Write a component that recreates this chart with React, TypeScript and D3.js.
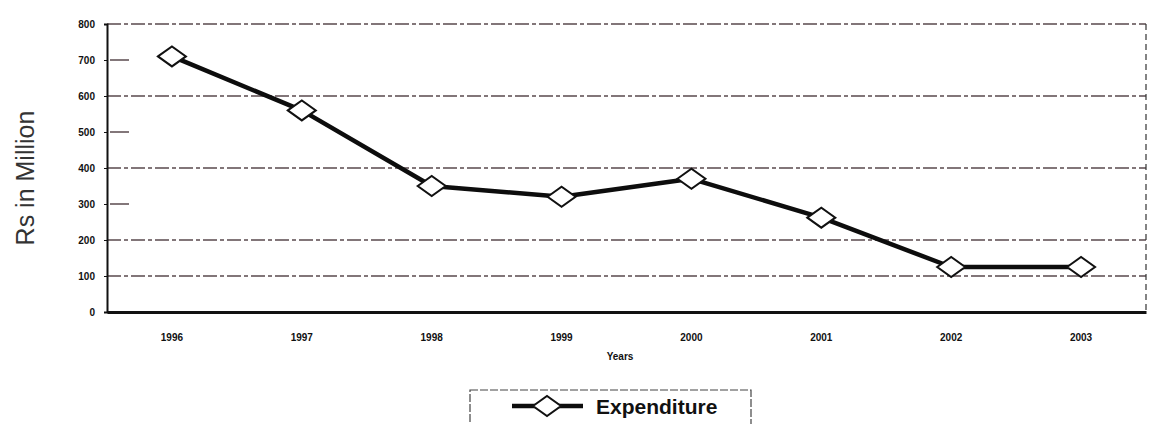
import { useEffect, useRef } from 'react';
import * as d3 from 'd3';

const years = ['1996', '1997', '1998', '1999', '2000', '2001', '2002', '2003'];
const expenditure = [710, 560, 350, 320, 370, 262, 125, 125];
const yTicks = [0, 100, 200, 300, 400, 500, 600, 700, 800];
const gridValues = [100, 200, 400, 600, 800];
const stubValues = [300, 500, 700];

const App = () => {
    const svgRef = useRef<SVGSVGElement>(null);

    useEffect(() => {
        const svg = d3.select(svgRef.current);
        const width = 1159;
        const height = 424;
        const margin = { top: 24, right: 13, bottom: 112, left: 107 };

        svg.selectAll('*').remove();

        const x = d3.scaleBand()
            .domain(years)
            .range([margin.left, width - margin.right])
            .padding(0);

        const y = d3.scaleLinear()
            .domain([0, 800])
            .range([height - margin.bottom, margin.top]);

        const cx = (d: string) => (x(d) ?? 0) + x.bandwidth() / 2;

        // grid
        svg.append('g')
            .selectAll('line')
            .data(gridValues)
            .join('line')
            .attr('x1', margin.left)
            .attr('x2', width - margin.right)
            .attr('y1', d => y(d))
            .attr('y2', d => y(d))
            .attr('stroke', '#5a4a4e')
            .attr('stroke-width', 1.5)
            .attr('stroke-dasharray', '14,3,4,3');

        svg.append('g')
            .selectAll('line')
            .data(stubValues)
            .join('line')
            .attr('x1', margin.left + 3)
            .attr('x2', margin.left + 22)
            .attr('y1', d => y(d))
            .attr('y2', d => y(d))
            .attr('stroke', '#5a4a4e')
            .attr('stroke-width', 1.5);

        // right border
        svg.append('line')
            .attr('x1', width - margin.right)
            .attr('x2', width - margin.right)
            .attr('y1', y(800))
            .attr('y2', y(0))
            .attr('stroke', '#333')
            .attr('stroke-width', 1.2)
            .attr('stroke-dasharray', '6,4');

        // axes
        const yAxis = svg.append('g')
            .attr('transform', `translate(${margin.left},0)`)
            .call(d3.axisLeft(y).tickValues(yTicks).tickSize(3).tickFormat(d3.format('d')));
        yAxis.select('.domain').attr('stroke', '#111').attr('stroke-width', 2);
        yAxis.selectAll('.tick line').attr('stroke', '#111');
        yAxis.selectAll('.tick text')
            .attr('x', -12)
            .style('font-family', 'Arial, "Liberation Sans", sans-serif')
            .style('font-size', '10px')
            .style('font-weight', 'bold')
            .attr('fill', '#111');

        const xAxis = svg.append('g')
            .attr('transform', `translate(0,${y(0)})`)
            .call(d3.axisBottom(x).tickSize(0).tickSizeOuter(0));
        xAxis.select('.domain').attr('stroke', '#111').attr('stroke-width', 3);
        xAxis.selectAll('.tick text')
            .attr('dy', '0')
            .attr('y', 29)
            .style('font-family', 'Arial, "Liberation Sans", sans-serif')
            .style('font-size', '10px')
            .style('font-weight', 'bold')
            .attr('fill', '#111');

        // axis titles
        svg.append('text')
            .attr('x', 620)
            .attr('y', 360)
            .attr('text-anchor', 'middle')
            .style('font-family', 'Arial, "Liberation Sans", sans-serif')
            .style('font-size', '10px')
            .style('font-weight', 'bold')
            .attr('fill', '#111')
            .text('Years');

        svg.append('text')
            .attr('transform', `translate(34,178) rotate(-90)`)
            .attr('text-anchor', 'middle')
            .style('font-family', 'Arial, "Liberation Sans", sans-serif')
            .style('font-size', '25px')
            .attr('fill', '#333')
            .text('Rs in Million');

        // line
        const line = d3.line<number>()
            .x((_, i) => cx(years[i]))
            .y(d => y(d));

        svg.append('path')
            .datum(expenditure)
            .attr('d', line)
            .attr('fill', 'none')
            .attr('stroke', '#0d0d0d')
            .attr('stroke-width', 4.5)
            .attr('stroke-linejoin', 'round');

        const diamond = (px: number, py: number) =>
            `M${px - 14},${py} L${px},${py - 10} L${px + 14},${py} L${px},${py + 10} Z`;

        svg.append('g')
            .selectAll('path')
            .data(expenditure)
            .join('path')
            .attr('d', (d, i) => diamond(cx(years[i]), y(d)))
            .attr('fill', '#fff')
            .attr('stroke', '#111')
            .attr('stroke-width', 2);

        // legend
        const lg = svg.append('g');
        lg.append('rect')
            .attr('x', 470)
            .attr('y', 390)
            .attr('width', 281)
            .attr('height', 40)
            .attr('fill', '#fff')
            .attr('stroke', '#444')
            .attr('stroke-width', 1.2)
            .attr('stroke-dasharray', '8,2');
        lg.append('line')
            .attr('x1', 512)
            .attr('x2', 583)
            .attr('y1', 406)
            .attr('y2', 406)
            .attr('stroke', '#0d0d0d')
            .attr('stroke-width', 4.5);
        lg.append('path')
            .attr('d', diamond(547, 406))
            .attr('fill', '#fff')
            .attr('stroke', '#111')
            .attr('stroke-width', 2);
        lg.append('text')
            .attr('x', 596)
            .attr('y', 414)
            .style('font-family', 'Arial, "Liberation Sans", sans-serif')
            .style('font-size', '21px')
            .style('font-weight', 'bold')
            .attr('fill', '#111')
            .text('Expenditure');
    }, []);

    return (
        <svg ref={svgRef} width="1159" height="424"
            style={{ position: 'absolute', left: 0, top: 0, backgroundColor: '#fff' }}></svg>
    );
};

export default App;
